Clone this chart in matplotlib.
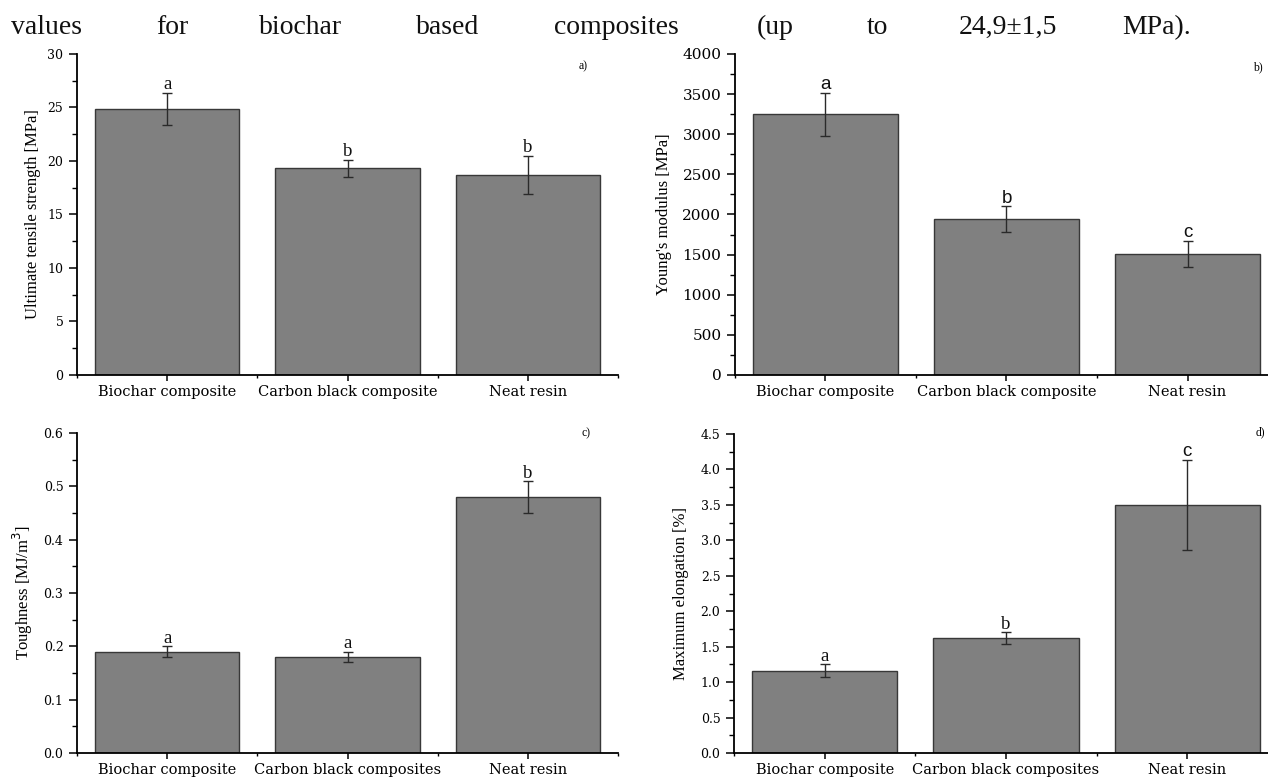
import numpy as np
import matplotlib
matplotlib.use('Agg')
import matplotlib.pyplot as plt
from matplotlib.ticker import MultipleLocator, FormatStrFormatter, FixedLocator

# Mechanical test results (mean, standard deviation, Tukey groups)
groups_top = ['Biochar composite', 'Carbon black composite', 'Neat resin']
groups_bottom = ['Biochar composite', 'Carbon black composites', 'Neat resin']

uts_mean = [24.9, 19.3, 18.7]
uts_err = [1.5, 0.8, 1.8]
uts_letters = ['a', 'b', 'b']

modulus_mean = [3250, 1940, 1510]
modulus_err = [270, 160, 165]
modulus_letters = ['a', 'b', 'c']

toughness_mean = [0.19, 0.18, 0.48]
toughness_err = [0.01, 0.01, 0.03]
toughness_letters = ['a', 'a', 'b']

elongation_mean = [1.16, 1.62, 3.50]
elongation_err = [0.09, 0.08, 0.64]
elongation_letters = ['a', 'b', 'c']

# last line of the paragraph above the figure (justified)
caption_words = ['values', 'for', 'biochar', 'based', 'composites',
                 '(up', 'to', '24,9\u00b11,5', 'MPa).']
caption_x = [11, 156, 259, 416, 554, 757, 867, 959, 1122]

W, H = 1268, 778
SERIF = 'Liberation Serif'
SANS = 'Liberation Sans'
TICK_FONT = 'DejaVu Serif'


def px_axes(left, top, right, bottom):
    return [left / W, 1 - bottom / H, (right - left) / W, (bottom - top) / H]


def bar_panel(ax, labels, means, errs, letters, letter_fonts, ylabel,
              ylim, major, minor, fmt, tag, tag_xy, label_x, ytick_size):
    x = np.arange(len(labels))
    ax.bar(x, means, width=0.8, color='#808080', edgecolor='#383838',
           linewidth=1.0, yerr=errs, capsize=3.5, zorder=2,
           error_kw=dict(ecolor='#2a2a2a', elinewidth=1.0, capthick=1.0))
    for i, (m, e, g) in enumerate(zip(means, errs, letters)):
        ax.annotate(g, (i, m + e), xytext=(0, 2.5), textcoords='offset points',
                    ha='center', va='baseline', fontsize=13.5,
                    family=letter_fonts[i], color='#111111')

    ax.set_xlim(-0.5, len(labels) - 0.5)
    ax.set_ylim(*ylim)
    ax.set_xticks(x)
    ax.set_xticklabels(labels, family=TICK_FONT, fontsize=10.5)
    ax.xaxis.set_minor_locator(FixedLocator(np.arange(-0.5, len(labels), 1.0)))
    ax.yaxis.set_major_locator(MultipleLocator(major))
    ax.yaxis.set_minor_locator(MultipleLocator(minor))
    ax.yaxis.set_major_formatter(FormatStrFormatter(fmt))
    for t in ax.get_yticklabels():
        t.set_family(TICK_FONT)
        t.set_fontsize(ytick_size)

    ax.tick_params(axis='y', which='major', direction='out', length=5.8,
                   width=1.1, pad=4)
    ax.tick_params(axis='y', which='minor', direction='out', length=3.6,
                   width=1.0)
    ax.tick_params(axis='x', which='major', direction='out', length=4.3,
                   width=1.1, pad=3)
    ax.tick_params(axis='x', which='minor', direction='out', length=2.5,
                   width=1.0)

    for side in ['top', 'right']:
        ax.spines[side].set_visible(False)
    for side in ['left', 'bottom']:
        ax.spines[side].set_linewidth(1.3)

    ax.set_ylabel(ylabel, family=SERIF, fontsize=12)
    ax.yaxis.set_label_coords(label_x, 0.5)
    ax.text(tag_xy[0], tag_xy[1], tag, transform=ax.transAxes,
            ha='center', va='center', family=SERIF, fontsize=8.5)


fig = plt.figure(figsize=(W / 100, H / 100), dpi=100)

for word, xp in zip(caption_words, caption_x):
    fig.text(xp / W, 1 - 34 / H, word, ha='left', va='baseline',
             family=SERIF, fontsize=20, color='#111111')

ax_a = fig.add_axes(px_axes(77, 54, 618, 375))
ax_b = fig.add_axes(px_axes(735, 54, 1278, 375))
ax_c = fig.add_axes(px_axes(77, 433, 618, 753))
ax_d = fig.add_axes(px_axes(734, 434, 1278, 753))

bar_panel(ax_a, groups_top, uts_mean, uts_err, uts_letters,
          [SERIF] * 3, 'Ultimate tensile strength [MPa]',
          (0, 30), 5, 2.5, '%d', 'a)', (0.935, 0.963), -0.066, 9)
bar_panel(ax_b, groups_top, modulus_mean, modulus_err, modulus_letters,
          [SANS] * 3, "Young's modulus [MPa]",
          (0, 4000), 500, 250, '%d', 'b)', (0.963, 0.96), -0.116, 11)
bar_panel(ax_c, groups_bottom, toughness_mean, toughness_err, toughness_letters,
          [SERIF] * 3, r'Toughness [MJ/m$^3$]',
          (0, 0.6), 0.1, 0.05, '%.1f', 'c)', (0.94, 1.0), -0.078, 9)
bar_panel(ax_d, groups_bottom, elongation_mean, elongation_err, elongation_letters,
          [SERIF, SERIF, SANS], 'Maximum elongation [%]',
          (0, 4.5), 0.5, 0.25, '%.1f', 'd)', (0.967, 1.005), -0.083, 9)

fig.savefig('out.png', dpi=100)
